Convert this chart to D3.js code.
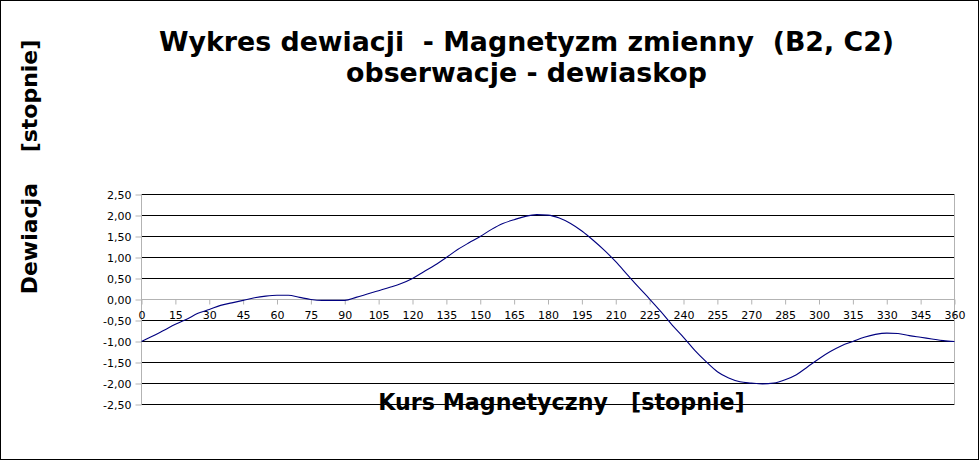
<!DOCTYPE html>
<html>
<head>
<meta charset="utf-8">
<script src="https://cdn.jsdelivr.net/npm/d3@7"></script>
<style>
  html, body { margin: 0; padding: 0; background: #fff; }
  svg { display: block; }
  text { font-family: "DejaVu Sans", sans-serif; }
</style>
</head>
<body>
<svg id="chart" width="979" height="460"></svg>
<script>
// ---- data ----
const headings = [0,5,10,15,20,25,30,35,40,45,50,55,60,65,70,75,80,85,90,
  95,100,105,110,115,120,125,130,135,140,145,150,155,160,165,170,175,180,
  185,190,195,200,205,210,215,220,225,230,235,240,245,250,255,260,265,270,
  275,280,285,290,295,300,305,310,315,320,325,330,335,340,345,350,355,360];
const deviation = [-1.00,-0.87,-0.73,-0.59,-0.47,-0.33,-0.24,-0.14,-0.08,-0.02,0.04,0.08,0.10,0.10,0.05,0.00,-0.02,-0.02,-0.02,
  0.05,0.13,0.21,0.29,0.38,0.50,0.66,0.82,1.00,1.19,1.35,1.50,1.67,1.81,1.90,1.98,2.02,2.01,
  1.94,1.81,1.63,1.41,1.17,0.90,0.60,0.30,0.01,-0.29,-0.61,-0.90,-1.21,-1.48,-1.72,-1.87,-1.96,-1.99,
  -2.01,-1.99,-1.91,-1.79,-1.60,-1.41,-1.24,-1.10,-1.00,-0.90,-0.83,-0.80,-0.81,-0.86,-0.90,-0.94,-0.98,-1.00];
const xTicks = [0,15,30,45,60,75,90,105,120,135,150,165,180,195,210,225,240,255,270,285,300,315,330,345,360];
const yTicks = [2.5,2.0,1.5,1.0,0.5,0.0,-0.5,-1.0,-1.5,-2.0,-2.5];
const titleLines = ["Wykres dewiacji  - Magnetyzm zmienny  (B2, C2)", "obserwacje - dewiaskop"];
const xTitle = "Kurs Magnetyczny   [stopnie]";
const yTitle = "Dewiacja    [stopnie]";

const svg = d3.select("#chart");
const W = 979, H = 460;

// outer frame
svg.append("rect").attr("x", 0.5).attr("y", 0.5).attr("width", W - 1).attr("height", H - 1)
  .attr("fill", "#fff").attr("stroke", "#000").attr("stroke-width", 1);

const x = d3.scaleLinear().domain([0, 360]).range([141.5, 954.5]);
const y = d3.scaleLinear().domain([-2.5, 2.5]).range([404.5, 194.5]);

// horizontal gridlines
svg.append("g").selectAll("line").data(yTicks).join("line")
  .attr("x1", x(0)).attr("x2", x(360))
  .attr("y1", d => y(d)).attr("y2", d => y(d))
  .attr("stroke", "#000").attr("stroke-width", 1);

// right border of plot area
svg.append("line").attr("x1", x(360)).attr("x2", x(360)).attr("y1", y(2.5)).attr("y2", y(-2.5))
  .attr("stroke", "#b3b3b3").attr("stroke-width", 1);

const fmt = d => d3.format(".2f")(d).replace(".", ",").replace("−", "-");

// y axis
const yAxis = svg.append("g").attr("transform", `translate(${x(0)},0)`)
  .call(d3.axisLeft(y).tickValues(yTicks).tickSize(6).tickPadding(4).tickFormat(fmt));
yAxis.select(".domain").attr("stroke", "#b3b3b3").attr("d", `M0,${y(2.5)}V${y(-2.5)}`);
yAxis.selectAll(".tick line").attr("stroke", "#b3b3b3");
yAxis.selectAll(".tick text").attr("fill", "#000").attr("font-size", 11)
  .attr("font-family", "DejaVu Sans");

// x axis at y = 0
const xAxis = svg.append("g").attr("transform", `translate(0,${y(0)})`)
  .call(d3.axisBottom(x).tickValues(xTicks).tickSize(5).tickPadding(7).tickFormat(d => d));
xAxis.select(".domain").attr("stroke", "#b3b3b3").attr("d", `M${x(0)},0H${x(360)}`);
xAxis.selectAll(".tick line").attr("stroke", "#b3b3b3");
xAxis.selectAll(".tick text").attr("fill", "#000").attr("font-size", 11)
  .attr("font-family", "DejaVu Sans");

// curve
const line = d3.line().x((d, i) => x(headings[i])).y(d => y(d)).curve(d3.curveMonotoneX);
svg.append("path").datum(deviation).attr("d", line)
  .attr("fill", "none").attr("stroke", "#000080").attr("stroke-width", 1.1);

// titles
svg.append("text").attr("x", 526.5).attr("y", 51).attr("text-anchor", "middle")
  .attr("font-weight", "bold").attr("font-size", 26.8).style("white-space", "pre")
  .text(titleLines[0]);
svg.append("text").attr("x", 526.5).attr("y", 82).attr("text-anchor", "middle")
  .attr("font-weight", "bold").attr("font-size", 26.8).style("white-space", "pre")
  .text(titleLines[1]);

svg.append("text").attr("x", 561.5).attr("y", 410).attr("text-anchor", "middle")
  .attr("font-weight", "bold").attr("font-size", 22.2).style("white-space", "pre")
  .text(xTitle);

svg.append("text").attr("transform", "translate(37,167) rotate(-90)").attr("text-anchor", "middle")
  .attr("font-weight", "bold").attr("font-size", 22).style("white-space", "pre")
  .text(yTitle);
</script>
</body>
</html>
